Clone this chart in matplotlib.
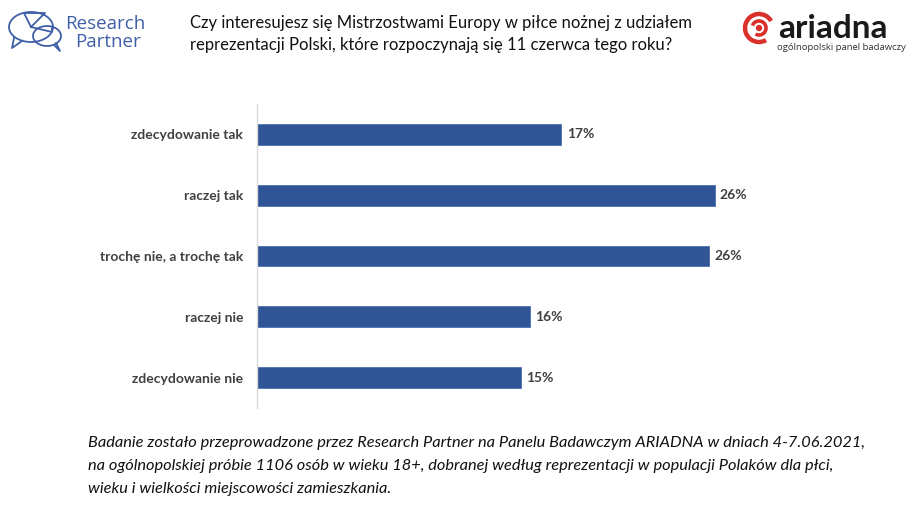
import matplotlib.pyplot as plt
from matplotlib.patches import Ellipse, Circle, Arc

categories = [
    "zdecydowanie tak",
    "raczej tak",
    "trochę nie, a trochę tak",
    "raczej nie",
    "zdecydowanie nie",
]
values = [17.3, 26.0, 25.7, 15.5, 15.0]

title = ("Czy interesujesz się Mistrzostwami Europy w piłce nożnej z udziałem\n"
         "reprezentacji Polski, które rozpoczynają się 11 czerwca tego roku?")
footnote = [
    "Badanie zostało przeprowadzone przez Research Partner na Panelu Badawczym ARIADNA w dniach 4-7.06.2021,",
    "na ogólnopolskiej próbie 1106 osób w wieku 18+, dobranej według reprezentacji w populacji Polaków dla płci,",
    "wieku i wielkości miejscowości zamieszkania.",
]

W, H = 920, 507
BAR_COLOR = "#2F5597"
TEXT_COLOR = "#404040"

fig = plt.figure(figsize=(W / 100, H / 100), dpi=100)
fig.patch.set_facecolor("white")


def fx(px):
    return px / W


def fy(py):
    return 1 - py / H


# main bar chart
ax = fig.add_axes([fx(257), fy(408), fx(900) - fx(257), fy(104) - fy(408)])
ypos = list(range(len(categories)))
ax.barh(ypos, values, height=0.345, color=BAR_COLOR, edgecolor="#4a6fb0", linewidth=0.6)
ax.set_ylim(len(categories) - 0.5, -0.5)
ax.set_xlim(0, 643 / 17.6)
ax.set_yticks(ypos)
ax.set_yticklabels(categories, fontsize=10, fontweight="bold", color=TEXT_COLOR, family="Lato")
ax.tick_params(axis="y", length=0, pad=10)
ax.set_xticks([])
for side in ["top", "right", "bottom"]:
    ax.spines[side].set_visible(False)
ax.spines["left"].set_color("#d9d9d9")
ax.spines["left"].set_linewidth(1)
for y, v in zip(ypos, values):
    ax.text(v + 0.3, y, f"{round(v):.0f}%", va="center", ha="left",
            fontsize=10, fontweight="bold", color=TEXT_COLOR, family="Lato")

# title
fig.text(fx(190), fy(34), title, ha="left", va="center", fontsize=12,
         color="#111111", family="Lato", linespacing=1.5)

# footnote
for i, line in enumerate(footnote):
    fig.text(fx(88), fy(443 + i * 23), line, ha="left", va="center", fontsize=11.8,
             style="italic", color="#111111", family="Lato")

# Research Partner logo
logo = fig.add_axes([0, fy(60), fx(160), fy(0) - fy(60)])
logo.set_xlim(0, 160)
logo.set_ylim(60, 0)
logo.axis("off")
blue = "#3F5FA8"
logo.add_patch(Ellipse((31, 27), 44, 30, fill=False, ec=blue, lw=1.3))
logo.add_patch(Ellipse((47, 36), 28, 20, fill=False, ec=blue, lw=1.3))
logo.plot([31, 24, 45, 31], [27, 13, 13, 27], color=blue, lw=1.3)
logo.plot([31, 52, 52], [27, 32, 28], color=blue, lw=1.3)
logo.plot([14, 12, 22], [38, 48, 41], color=blue, lw=1.3)
logo.plot([56, 60, 54], [43, 51, 45], color=blue, lw=1.3)
logo.text(65, 24, "Research", fontsize=13.5, color=blue, family="Open Sans", va="center")
logo.text(75, 42, "Partner", fontsize=13.5, color=blue, family="Open Sans", va="center")

# ARIADNA logo
alogo = fig.add_axes([fx(730), fy(70), fx(920) - fx(730), fy(0) - fy(70)])
alogo.set_xlim(730, 920)
alogo.set_ylim(70, 0)
alogo.set_aspect("equal")
alogo.axis("off")
red = "#D9302C"
alogo.add_patch(Arc((759, 28), 28, 28, theta1=60, theta2=330, color=red, lw=3.2))
alogo.add_patch(Arc((759, 28), 14, 14, theta1=200, theta2=480, color=red, lw=2.6))
alogo.add_patch(Circle((759, 28), 2.5, color=red))
alogo.text(778, 29, "ariadna", fontsize=24, fontweight="bold", color="#1a1a1a",
           family="Lato", va="center", ha="left")
alogo.text(906, 48, "ogólnopolski panel badawczy", fontsize=6.8, color="#333333",
           family="Open Sans", va="center", ha="right")

fig.savefig("out.png", dpi=100)
